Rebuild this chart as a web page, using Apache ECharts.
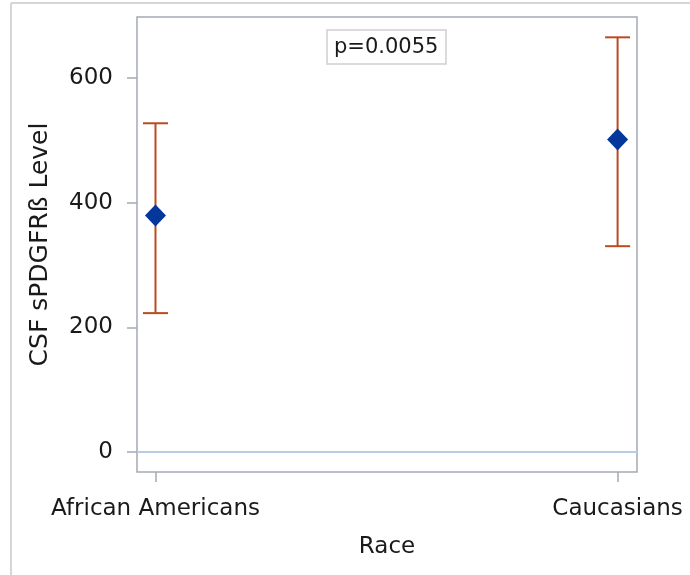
<!DOCTYPE html>
<html>
<head>
<meta charset="utf-8">
<script src="https://cdn.jsdelivr.net/npm/echarts@6/dist/echarts.min.js"></script>
<style>
html,body{margin:0;padding:0;background:#fff;}
#chart{width:690px;height:575px;}
</style>
</head>
<body>
<div id="chart"></div>
<script>
var categories = ['African Americans', 'Caucasians'];
var means = [379.5, 501.4];
var lowers = [222.9, 330.3];
var uppers = [527.5, 665.4];
var yTicks = [0, 200, 400, 600];
var pText = 'p=0.0055';

var FONT = 'DejaVu Sans';
var chart = echarts.init(document.getElementById('chart'));

var meanData = means.map(function (v, i) { return [i, v]; });
var errData = means.map(function (v, i) { return [i, lowers[i], uppers[i]]; });

chart.setOption({
  animation: false,
  backgroundColor: '#fff',
  textStyle: { fontFamily: FONT },
  title: {
    text: pText,
    left: 327, top: 30,
    padding: [7, 8, 6, 7],
    borderColor: '#cfcfcf', borderWidth: 1.5,
    textStyle: { fontFamily: FONT, fontSize: 21, fontWeight: 'normal', color: '#1a1a1a' }
  },
  graphic: [
    { type: 'line', shape: { x1: 11, y1: 3, x2: 11, y2: 575 }, style: { stroke: '#d6d6d6', lineWidth: 2 } },
    { type: 'line', shape: { x1: 11, y1: 3, x2: 690, y2: 3 }, style: { stroke: '#d6d6d6', lineWidth: 2 } }
  ],
  grid: {
    left: 137, right: 53, top: 17, bottom: 103,
    show: true, borderColor: '#a3abb3', borderWidth: 1.5, backgroundColor: '#fff'
  },
  xAxis: {
    type: 'value', min: -0.04, max: 1.042,
    name: 'Race', nameLocation: 'middle', nameGap: 64,
    nameTextStyle: { fontFamily: FONT, fontSize: 23, color: '#1a1a1a' },
    axisLine: { show: false, onZero: false },
    splitLine: { show: false },
    axisTick: { show: true, inside: false, customValues: [0, 1], length: 10, lineStyle: { color: '#a3abb3', width: 1.5 } },
    axisLabel: {
      customValues: [0, 1], margin: 26,
      fontFamily: FONT, fontSize: 23, color: '#1a1a1a',
      formatter: function (v) { return categories[Math.round(v)]; }
    }
  },
  yAxis: {
    type: 'value', min: -32, max: 698,
    name: 'CSF sPDGFRß Level', nameLocation: 'middle', nameGap: 84,
    nameTextStyle: { fontFamily: FONT, fontSize: 25, color: '#1a1a1a' },
    axisLine: { show: false, onZero: false },
    splitLine: { show: false },
    axisTick: { show: true, inside: false, customValues: yTicks, length: 10, lineStyle: { color: '#a3abb3', width: 1.5 } },
    axisLabel: { customValues: yTicks, margin: 24, fontFamily: FONT, fontSize: 23, color: '#1a1a1a' }
  },
  series: [
    {
      type: 'custom',
      data: errData,
      z: 3,
      renderItem: function (params, api) {
        var x = api.value(0);
        var lo = api.coord([x, api.value(1)]);
        var hi = api.coord([x, api.value(2)]);
        var hw = 12.5;
        var style = { stroke: '#bb4a21', lineWidth: 2 };
        return {
          type: 'group',
          children: [
            { type: 'line', shape: { x1: lo[0], y1: lo[1], x2: hi[0], y2: hi[1] }, style: style },
            { type: 'line', shape: { x1: lo[0] - hw, y1: lo[1], x2: lo[0] + hw, y2: lo[1] }, style: style },
            { type: 'line', shape: { x1: hi[0] - hw, y1: hi[1], x2: hi[0] + hw, y2: hi[1] }, style: style }
          ]
        };
      }
    },
    {
      type: 'scatter',
      data: meanData,
      z: 4,
      symbol: 'diamond',
      symbolSize: [21, 22],
      itemStyle: { color: '#04379b', opacity: 1 },
      markLine: {
        silent: true, symbol: ['none', 'none'],
        label: { show: false },
        lineStyle: { color: '#b7cde6', type: 'solid', width: 2 },
        data: [{ yAxis: 0 }]
      }
    }
  ]
});
</script>
</body>
</html>
